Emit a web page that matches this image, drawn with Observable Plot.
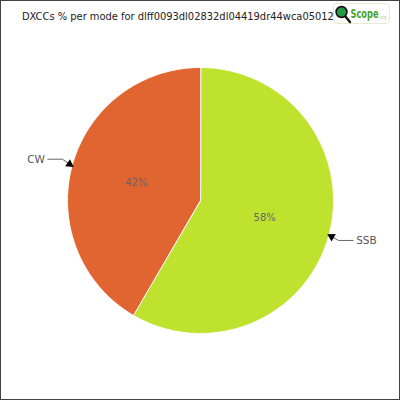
<!DOCTYPE html>
<html><head><meta charset="utf-8">
<script src="https://cdn.jsdelivr.net/npm/d3@7"></script>
<script src="https://cdn.jsdelivr.net/npm/@observablehq/plot@0.6"></script>
<style>
html,body{margin:0;padding:0;background:#fff;}
#frame{position:relative;width:400px;height:400px;box-sizing:border-box;border:1px solid #444;overflow:hidden;background:#fff;}
#title{position:relative;height:26px;}
#title span{position:absolute;left:21px;top:10px;font-family:"DejaVu Sans",sans-serif;font-stretch:condensed;font-size:11px;line-height:1;color:#222;white-space:nowrap;}
#logo{position:absolute;left:332px;top:2px;width:57px;height:21px;box-sizing:border-box;border:1px solid #e6eccf;border-radius:4px;background:#fff;}
#logo svg{position:absolute;left:-1px;top:-1px;}
</style></head>
<body>
<div id="frame">
  <div id="title"><span>DXCCs % per mode for dlff0093dl02832dl04419dr44wca050124</span></div>
  <div id="logo">
    <svg width="57" height="22">
      <line x1="12" y1="13" x2="17" y2="19" stroke="#111" stroke-width="2.4" stroke-linecap="round"/>
      <circle cx="8.5" cy="9" r="5.4" fill="#1f9a45" stroke="#111" stroke-width="1.6"/>
      <g transform="translate(17.5,15) scale(0.66,1)">
        <text x="0" y="0" font-family="DejaVu Sans, sans-serif" font-weight="bold" font-size="12.5" fill="#43a52d">Scope<tspan font-weight="normal" font-size="5.5" fill="#a5d08f" dx="1" dy="1">.org</tspan></text>
      </g>
    </svg>
  </div>
  <div id="chart"></div>
</div>
<script>
const modes = ["SSB", "CW"];
const values = [58.4, 41.6];
const colors = ["#bfe22f", "#e06530"];

const total = d3.sum(values);
const arcs = d3.pie().sort(null).value(d => d)(values);

// slice outlines in unit-circle coordinates (angle clockwise from top)
const slicePts = [];
arcs.forEach((a, i) => {
  slicePts.push({mode: modes[i], x: 0, y: 0});
  const n = Math.max(2, Math.ceil((a.endAngle - a.startAngle) / (Math.PI / 360)));
  for (let k = 0; k <= n; ++k) {
    const t = a.startAngle + (a.endAngle - a.startAngle) * k / n;
    slicePts.push({mode: modes[i], x: Math.sin(t), y: Math.cos(t)});
  }
});

const R = 133; // pixel radius
const mids = arcs.map((a, i) => {
  const m = (a.startAngle + a.endAngle) / 2;
  const sx = Math.sin(m), sy = Math.cos(m);
  const side = sx < 0 ? -1 : 1;
  const tip = {x: sx, y: sy};
  const elbow = {x: sx * 1.075, y: sy * 1.075 + (sy > 0 ? 0.03 : -0.02)};
  const end = {x: elbow.x + side * 0.11, y: elbow.y};
  const dxp = (tip.x - elbow.x) * R, dyp = -(tip.y - elbow.y) * R;
  const len = Math.hypot(dxp, dyp);
  const ang = Math.atan2(dyp, dxp) * 180 / Math.PI;
  return {mode: modes[i], pct: Math.round(values[i] / total * 100) + "%",
    cx: sx * 0.5, cy: sy * 0.5, tip, elbow, end, side, rot: ang + 90,
    hx: tip.x - (dxp / len) * 3 / R,
    hy: tip.y + (dyp / len) * 3 / R};
});

const leaders = mids.flatMap(d => [
  {mode: d.mode, x: d.end.x, y: d.end.y},
  {mode: d.mode, x: d.elbow.x, y: d.elbow.y},
  {mode: d.mode, x: d.hx, y: d.hy}
]);

const chart = Plot.plot({
  width: 398,
  height: 372,
  margin: 0,
  style: {background: "transparent"},
  x: {domain: [-1, 1], range: [66, 332], axis: null},
  y: {domain: [-1, 1], range: [306, 40], axis: null},
  color: {domain: modes, range: colors},
  marks: [
    Plot.line(slicePts, {x: "x", y: "y", z: "mode", fill: "mode", stroke: "white", strokeWidth: 1, curve: "linear-closed"}),
    Plot.text(mids, {x: "cx", y: "cy", text: "pct", fill: "#666", fontSize: 10, fontFamily: "DejaVu Sans, sans-serif", fontStretch: "condensed"}),
    Plot.line(leaders, {x: "x", y: "y", z: "mode", stroke: "#666", strokeWidth: 1}),
    Plot.dot(mids, {x: "hx", y: "hy", symbol: "triangle", r: 3.2, fill: "#000", stroke: "none", rotate: "rot"}),
    Plot.text(mids.filter(d => d.side < 0), {x: d => d.end.x, y: d => d.end.y, text: "mode", dx: -3, textAnchor: "end", fill: "#555", fontSize: 10.5, fontFamily: "DejaVu Sans, sans-serif", fontStretch: "condensed"}),
    Plot.text(mids.filter(d => d.side > 0), {x: d => d.end.x, y: d => d.end.y, text: "mode", dx: 3, textAnchor: "start", fill: "#555", fontSize: 10.5, fontFamily: "DejaVu Sans, sans-serif", fontStretch: "condensed"})
  ]
});
document.getElementById("chart").appendChild(chart);
</script>
</body></html>
